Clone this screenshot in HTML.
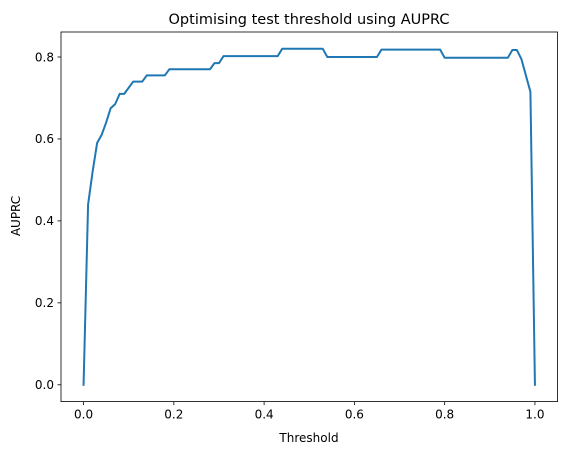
<!DOCTYPE html>
<html><head><meta charset="utf-8"><style>
html,body{margin:0;padding:0;background:#fff;}
svg{display:block;font-family:"DejaVu Sans","Liberation Sans",sans-serif;}
</style></head><body>
<svg id="chart" width="567" height="455" viewBox="0 0 567 455" xmlns="http://www.w3.org/2000/svg">
<rect x="0" y="0" width="567" height="455" fill="#fff"/>
<text x="309" y="24" font-size="14.5" text-anchor="middle" fill="#000">Optimising test threshold using AUPRC</text>
<g id="plot"></g>
<text x="309" y="442" font-size="12" text-anchor="middle" fill="#000">Threshold</text>
<text x="0" y="0" font-size="12" text-anchor="middle" fill="#000" transform="translate(20,216) rotate(-90)">AUPRC</text>
</svg>
<script>
const thresholds = [0,0.01,0.02,0.03,0.04,0.05,0.06,0.07,0.08,0.09,0.10,0.11,0.12,0.13,0.14,0.15,0.16,0.17,0.18,0.19,0.20,0.21,0.22,0.23,0.24,0.25,0.26,0.27,0.28,0.29,0.30,0.31,0.32,0.33,0.34,0.35,0.36,0.37,0.38,0.39,0.40,0.41,0.42,0.43,0.44,0.45,0.46,0.47,0.48,0.49,0.50,0.51,0.52,0.53,0.54,0.55,0.56,0.57,0.58,0.59,0.60,0.61,0.62,0.63,0.64,0.65,0.66,0.67,0.68,0.69,0.70,0.71,0.72,0.73,0.74,0.75,0.76,0.77,0.78,0.79,0.80,0.81,0.82,0.83,0.84,0.85,0.86,0.87,0.88,0.89,0.90,0.91,0.92,0.93,0.94,0.95,0.96,0.97,0.98,0.99,1.0];
const auprc = [0,0.44,0.52,0.59,0.61,0.64,0.675,0.685,0.71,0.71,0.725,0.74,0.74,0.74,0.755,0.755,0.755,0.755,0.755,0.77,0.77,0.77,0.77,0.77,0.77,0.77,0.77,0.77,0.77,0.785,0.785,0.802,0.802,0.802,0.802,0.802,0.802,0.802,0.802,0.802,0.802,0.802,0.802,0.802,0.82,0.82,0.82,0.82,0.82,0.82,0.82,0.82,0.82,0.82,0.80,0.80,0.80,0.80,0.80,0.80,0.80,0.80,0.80,0.80,0.80,0.80,0.818,0.818,0.818,0.818,0.818,0.818,0.818,0.818,0.818,0.818,0.818,0.818,0.818,0.818,0.798,0.798,0.798,0.798,0.798,0.798,0.798,0.798,0.798,0.798,0.798,0.798,0.798,0.798,0.798,0.817,0.817,0.795,0.755,0.715,0];
const xTicks = [0,0.2,0.4,0.6,0.8,1.0];
const xTickLabels = ["0.0","0.2","0.4","0.6","0.8","1.0"];
const yTicks = [0,0.2,0.4,0.6,0.8];
const yTickLabels = ["0.0","0.2","0.4","0.6","0.8"];

const NS="http://www.w3.org/2000/svg";
const L=61,R=557.5,T=32,B=401.6;
const xmin=Math.min(...thresholds),xmax=Math.max(...thresholds);
const ymin=Math.min(...auprc),ymax=Math.max(...auprc);
const xpad=(xmax-xmin)*0.05,ypad=(ymax-ymin)*0.05;
const x=v=>L+(v-(xmin-xpad))/((xmax+xpad)-(xmin-xpad))*(R-L);
const y=v=>B-(v-(ymin-ypad))/((ymax+ypad)-(ymin-ypad))*(B-T);
const g=document.getElementById('plot');
function mk(tag,attrs){const e=document.createElementNS(NS,tag);for(const k in attrs)e.setAttribute(k,attrs[k]);g.appendChild(e);return e;}

xTicks.forEach((t,i)=>{
  const tk=mk('line',{x1:x(t),x2:x(t),y1:B,y2:B+3.5,stroke:'#000','stroke-width':0.8});
  
  
  const tx=mk('text',{x:x(t),y:B+17,'font-size':12,'text-anchor':'middle',fill:'#000'});
  tx.textContent=xTickLabels[i];
  
  
});
yTicks.forEach((t,i)=>{
  const tk=mk('line',{x1:L-3.5,x2:L,y1:y(t),y2:y(t),stroke:'#000','stroke-width':0.8});
  
  
  const tx=mk('text',{x:L-7,y:y(t)+4.3,'font-size':12,'text-anchor':'end',fill:'#000'});
  tx.textContent=yTickLabels[i];
  
  
});
const pts=thresholds.map((t,i)=>x(t).toFixed(2)+','+y(auprc[i]).toFixed(2)).join(' ');
const line=mk('polyline',{points:pts,fill:'none',stroke:'#1f77b4','stroke-width':2,'stroke-linejoin':'round','stroke-linecap':'square'});


const frame=mk('rect',{x:L,y:T,width:R-L,height:B-T,fill:'none',stroke:'#000','stroke-width':0.8});


</script>
</body></html>
